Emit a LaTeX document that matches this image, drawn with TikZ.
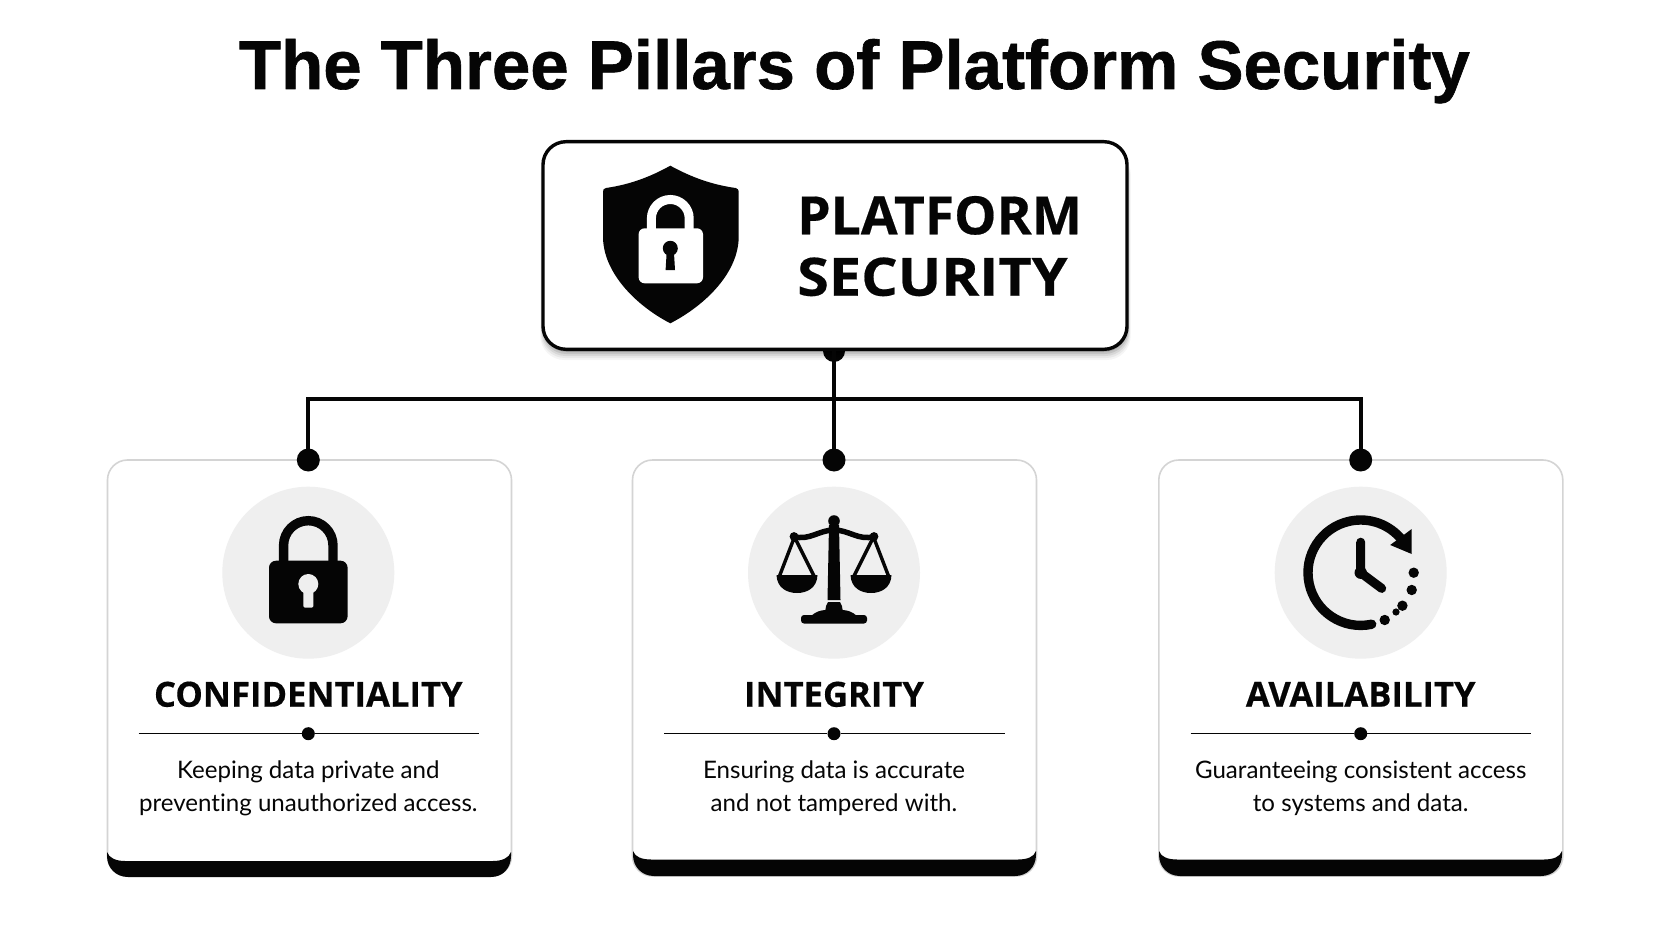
\documentclass[tikz,border=0pt]{standalone}
\usepackage{fontspec}
\setmainfont{Lato}[Ligatures=NoCommon]
\newfontfamily\headfont{Open Sans}[BoldFeatures={FakeBold=0.35}]
\newfontfamily\titlefont{Liberation Sans}[BoldFeatures={FakeBold=0.9}]
\usetikzlibrary{calc}
\definecolor{ink}{HTML}{050505}
\definecolor{cardline}{HTML}{D4D4D4}
\definecolor{disc}{HTML}{EFEFEF}
\tikzset{
  px/.style={x=1pt,y=-1pt},
  pillarcard/.style={draw=cardline,line width=1.6pt,fill=white,rounded corners=20pt,minimum width=404pt,minimum height=416pt,inner sep=0pt},
  bigdot/.style={circle,fill=ink,minimum size=23pt,inner sep=0pt},
  smalldot/.style={circle,fill=ink,minimum size=13pt,inner sep=0pt},
  discnode/.style={circle,fill=disc,minimum size=172pt,inner sep=0pt},
  link/.style={draw=ink,line width=3.8pt},
  rule/.style={draw=ink,line width=1.3pt},
  headtext/.style={font=\headfont\bfseries\fontsize{34.6}{34.6}\selectfont,text=ink,inner sep=0pt,anchor=base},
  toptext/.style={font=\headfont\bfseries\fontsize{52.8}{52.8}\selectfont,text=ink,inner sep=0pt,anchor=base west},
  desctext/.style={font=\fontsize{24.1}{33}\selectfont,text=ink,inner sep=0pt,align=center,anchor=base},
}
\begin{document}
\begin{tikzpicture}[px]
\useasboundingbox (0,0) rectangle (1672,941);
\fill[white] (0,0) rectangle (1672,941);
% title
\node[font=\titlefont\bfseries\fontsize{69}{69}\selectfont,text=ink,inner sep=0pt,anchor=base] (title) at (854.4,89) {The Three Pillars of Platform Security};
% top dot (half hidden by the box)
\node[circle,fill=ink,minimum size=22pt,inner sep=0pt] (topdot) at (834,351) {};
% shadow of top box
\foreach \d/\o in {11/0.04,9/0.05,7/0.07,5/0.09,3/0.12}{
  \fill[black,opacity=\o,rounded corners=24pt] (544-\d/3,150) rectangle (1127+\d/3,349+\d);
}
% top box
\node[draw=ink,line width=3.4pt,fill=white,rounded corners=23pt,minimum width=584pt,minimum height=207.6pt,inner sep=0pt] (top) at (835,245.5) {};
\coordinate (hub) at (834,399.3);
% cards
\node[pillarcard] (card1) at (309.5,668) {};
\node[pillarcard] (card2) at (834.5,668) {};
\node[pillarcard] (card3) at (1360.8,668) {};
% bottom strips
\fill[ink] (107,852) -- (107,856) .. controls (107,868) and (116,877) .. (128,877) -- (491,877) .. controls (503,877) and (511,868) .. (511,856) -- (511,852) .. controls (509,858) and (502,861) .. (493,861) -- (125,861) .. controls (116,861) and (109,858) .. (107,852) -- cycle;
\fill[ink] (633,851) -- (633,855) .. controls (633,867) and (642,876) .. (654,876) -- (1015,876) .. controls (1027,876) and (1036,867) .. (1036,855) -- (1036,851) .. controls (1034,857) and (1027,859.5) .. (1018,859.5) -- (651,859.5) .. controls (642,859.5) and (635,857) .. (633,851) -- cycle;
\fill[ink] (1159,851) -- (1159,855) .. controls (1159,867) and (1168,876) .. (1180,876) -- (1541,876) .. controls (1553,876) and (1562,867) .. (1562,855) -- (1562,851) .. controls (1560,857) and (1553,859.5) .. (1544,859.5) -- (1177,859.5) .. controls (1168,859.5) and (1161,857) .. (1159,851) -- cycle;
% entry dots
\node[bigdot] (dot1) at (308.3,460) {};
\node[bigdot] (dot2) at (834,460) {};
\node[bigdot] (dot3) at (1360.7,460) {};
% connectors
\draw[link] (top.south -| hub) -- (dot2.center);
\draw[link] (dot1.center) |- (hub) -| (dot3.center);
% shield
\fill[ink] (670.3,165.7) .. controls (650,177) and (630,184.5) .. (606,188) .. controls (604,188.4) and (603,189.6) .. (603,191.5) -- (603,236.7) .. controls (603,272) and (635,305) .. (670.3,323.3) .. controls (706,305) and (738.7,272) .. (738.7,236.7) -- (738.7,191.5) .. controls (738.7,189.6) and (737.5,188.4) .. (735.5,188) .. controls (711,184.5) and (691,177) .. (670.3,165.7) -- cycle;
\draw[white,line width=9pt] (651.4,232) -- (651.4,218.4) arc[start angle=180,end angle=360,radius=18.9] -- (689.2,232);
\fill[white,rounded corners=6pt] (638.6,228.3) rectangle (703,283.3);
\fill[ink] (670.3,248.3) circle[radius=7.5];
\fill[ink] (666.8,250) -- (673.8,250) -- (675,270) -- (665.6,270) -- cycle;
\node[toptext] (plat) at (797,234.3) {\scalebox{1.01}[1]{PLATFORM}};
\node[toptext] (secu) at (797,295.7) {\scalebox{1.09}[1]{SECURITY}};
% discs
\node[discnode] (disc1) at (308.3,572.7) {};
\node[discnode] (disc2) at (834,572.7) {};
\node[discnode] (disc3) at (1360.7,572.7) {};
% padlock
\begin{scope}[shift={(308.3,0)}]
\draw[ink,line width=9.4pt] (-24.7,565) -- (-24.7,545.4) arc[start angle=180,end angle=360,radius=24.7] -- (24.7,565);
\fill[ink,rounded corners=7pt] (-39.3,560.7) rectangle (39.3,623.3);
\fill[disc] (0,584) circle[radius=10];
\fill[disc,rounded corners=1.5pt] (-5,586) rectangle (5,607.7);
\end{scope}
% scales
\begin{scope}[shift={(834,0)}]
\fill[ink] (0,521) circle[radius=5.8];
\fill[ink] (-5,525) -- (5,525) -- (6.5,600) -- (-6.5,600) -- cycle;
\fill[ink] (-9,612) .. controls (-8,607) and (-8,604) .. (-6,602) -- (6,602) .. controls (8,604) and (8,607) .. (9,612) -- cycle;
\fill[ink] (-23,616) .. controls (-18,611.5) and (-14,610.5) .. (-9,610) -- (9,610) .. controls (14,610.5) and (18,611.5) .. (23,616) -- cycle;
\fill[ink,rounded corners=3pt] (-33,615) rectangle (33,623.5);
\draw[ink,line width=5.5pt,line cap=round] (-40,536.5) .. controls (-25,541) and (-15,530) .. (0,530) .. controls (15,530) and (25,541) .. (40,536.5);
\fill[ink] (-40,536.5) circle[radius=4.4];
\fill[ink] (40,536.5) circle[radius=4.4];
\draw[ink,line width=3.4pt,line join=round] (-54.5,576) -- (-39.5,537) -- (-20,576);
\draw[ink,line width=3.4pt,line join=round] (20,576) -- (39.5,537) -- (54.5,576);
\fill[ink] (-57.5,575) -- (-16.5,575) .. controls (-17,588) and (-27,593) .. (-37,593) .. controls (-47,593) and (-57,588) .. (-57.5,575) -- cycle;
\fill[ink] (16.5,575) -- (57.5,575) .. controls (57,588) and (47,593) .. (37,593) .. controls (27,593) and (17,588) .. (16.5,575) -- cycle;
\end{scope}
% clock
\begin{scope}[shift={(1360.7,572.7)}]
\draw[ink,line width=9.4pt,line cap=round] (78:52.7) arc[start angle=78,end angle=322,radius=52.7];
\fill[ink] (51,-43.7) -- (51,-18.7) -- (29.5,-27.7) -- cycle;
\fill[ink] (53,0) circle[radius=5.2];
\fill[ink] (51,17.3) circle[radius=5.2];
\fill[ink] (41.7,33) circle[radius=5.2];
\fill[ink] (35.3,39.3) circle[radius=3.6];
\fill[ink] (24,47.3) circle[radius=5.2];
\draw[ink,line width=9pt,line cap=round] (0,-30.5) -- (0,0) -- (21,15.7);
\fill[ink] (0,0) circle[radius=6.2];
\end{scope}
% heads
\node[headtext] (h1) at (308.3,706.7) {CONFIDENTIALITY};
\node[headtext] (h2) at (834,706.7) {INTEGRITY};
\node[headtext] (h3) at (1360.7,706.7) {AVAILABILITY};
% rules
\node[smalldot] (m1) at (308.3,733.7) {};
\node[smalldot] (m2) at (834,733.7) {};
\node[smalldot] (m3) at (1360.7,733.7) {};
\coordinate (l1) at (138.7,733.7); \coordinate (r1) at (479,733.7);
\coordinate (l2) at (664.3,733.7); \coordinate (r2) at (1004.7,733.7);
\coordinate (l3) at (1190.7,733.7); \coordinate (r3) at (1530.7,733.7);
\draw[rule] (l1) -- (m1) -- (r1);
\draw[rule] (l2) -- (m2) -- (r2);
\draw[rule] (l3) -- (m3) -- (r3);
% descriptions
\node[desctext] (d1) at (308.3,811) {Keeping data private and\\preventing unauthorized access.};
\node[desctext] (d2) at (834,811) {Ensuring data is accurate\\and not tampered with.};
\node[desctext] (d3) at (1360.7,811) {Guaranteeing consistent access\\to systems and data.};
\end{tikzpicture}
\end{document}
